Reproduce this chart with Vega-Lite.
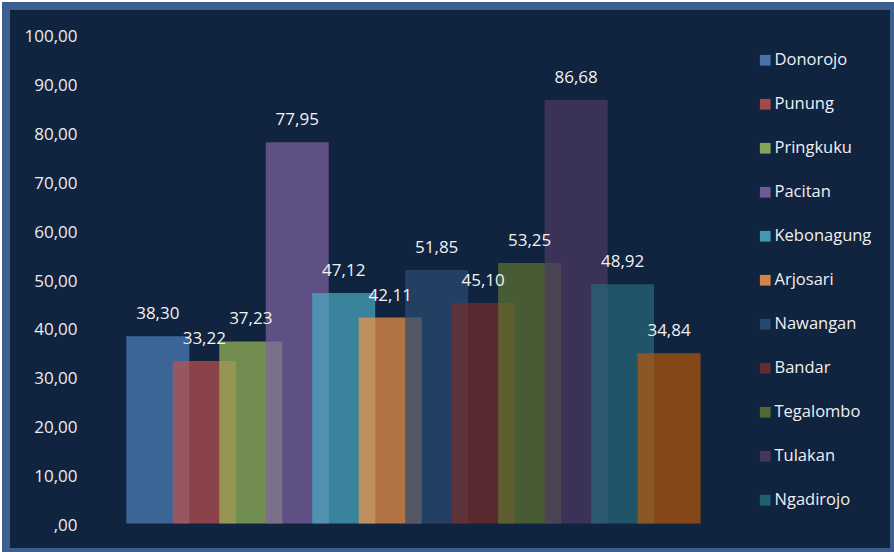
{
  "$schema": "https://vega.github.io/schema/vega-lite/v6.json",
  "width": 888,
  "height": 546,
  "autosize": "none",
  "padding": {"left": 6, "top": 6, "right": 0, "bottom": 0},
  "background": "#ffffff",
  "config": {
    "view": {"fill": "#10233f", "stroke": "#3d5f8f", "strokeWidth": 8},
    "font": "Open Sans",
    "locale": {"number": {"decimal": ",", "thousands": ".", "grouping": [3], "currency": ["", ""]}}
  },
  "data": {
    "values": [
      {"no": 1, "kecamatan": "Donorojo", "nilai": 38.30},
      {"no": 2, "kecamatan": "Punung", "nilai": 33.22},
      {"no": 3, "kecamatan": "Pringkuku", "nilai": 37.23},
      {"no": 4, "kecamatan": "Pacitan", "nilai": 77.95},
      {"no": 5, "kecamatan": "Kebonagung", "nilai": 47.12},
      {"no": 6, "kecamatan": "Arjosari", "nilai": 42.11},
      {"no": 7, "kecamatan": "Nawangan", "nilai": 51.85},
      {"no": 8, "kecamatan": "Bandar", "nilai": 45.10},
      {"no": 9, "kecamatan": "Tegalombo", "nilai": 53.25},
      {"no": 10, "kecamatan": "Tulakan", "nilai": 86.68},
      {"no": 11, "kecamatan": "Ngadirojo", "nilai": 48.92},
      {"no": 12, "kecamatan": "Sudimoro", "nilai": 34.84}
    ]
  },
  "encoding": {
    "x": {
      "field": "no",
      "type": "quantitative",
      "scale": {"domain": [-2.159, 16.732], "nice": false, "zero": false},
      "axis": null
    }
  },
  "layer": [
    {
      "mark": {"type": "bar", "width": 63, "opacity": 0.7},
      "encoding": {
        "y": {
          "field": "nilai",
          "type": "quantitative",
          "scale": {"domain": [-5.83, 105.83], "nice": false, "zero": false},
          "axis": {
            "title": null,
            "values": [0, 10, 20, 30, 40, 50, 60, 70, 80, 90, 100],
            "format": ".2f",
            "labelExpr": "datum.value === 0 ? ',00' : datum.label",
            "domain": false,
            "ticks": false,
            "tickSize": 0,
            "grid": false,
            "offset": -71,
            "labelPadding": 0,
            "labelOffset": 2,
            "labelFontSize": 17,
            "labelColor": "#ececec",
            "labelFont": "Open Sans"
          }
        },
        "color": {
          "field": "kecamatan",
          "type": "nominal",
          "sort": null,
          "scale": {
            "domain": ["Donorojo", "Punung", "Pringkuku", "Pacitan", "Kebonagung", "Arjosari", "Nawangan", "Bandar", "Tegalombo", "Tulakan", "Ngadirojo", "Sudimoro"],
            "range": ["#4F81BD", "#C0504D", "#9BBB59", "#8064A2", "#4BACC6", "#F79646", "#2C4D75", "#772C2A", "#5F7530", "#4D3B62", "#276A7C", "#B65708"]
          },
          "legend": {
            "orient": "none",
            "legendX": 751,
            "legendY": 46,
            "values": ["Donorojo", "Punung", "Pringkuku", "Pacitan", "Kebonagung", "Arjosari", "Nawangan", "Bandar", "Tegalombo", "Tulakan", "Ngadirojo"],
            "title": null,
            "symbolType": "square",
            "symbolSize": 115,
            "symbolOpacity": 0.85,
            "symbolStrokeWidth": 0,
            "labelFontSize": 16.5,
            "labelFont": "Open Sans",
            "labelColor": "#f0f0f0",
            "labelOffset": 1,
            "rowPadding": 27,
            "padding": 0
          }
        }
      }
    },
    {
      "mark": {"type": "text", "baseline": "alphabetic", "dy": -17, "fontSize": 17, "color": "#f2f2f2", "font": "Open Sans"},
      "encoding": {
        "y": {"field": "nilai", "type": "quantitative"},
        "text": {"field": "nilai", "type": "quantitative", "format": ".2f"}
      }
    }
  ]
}
